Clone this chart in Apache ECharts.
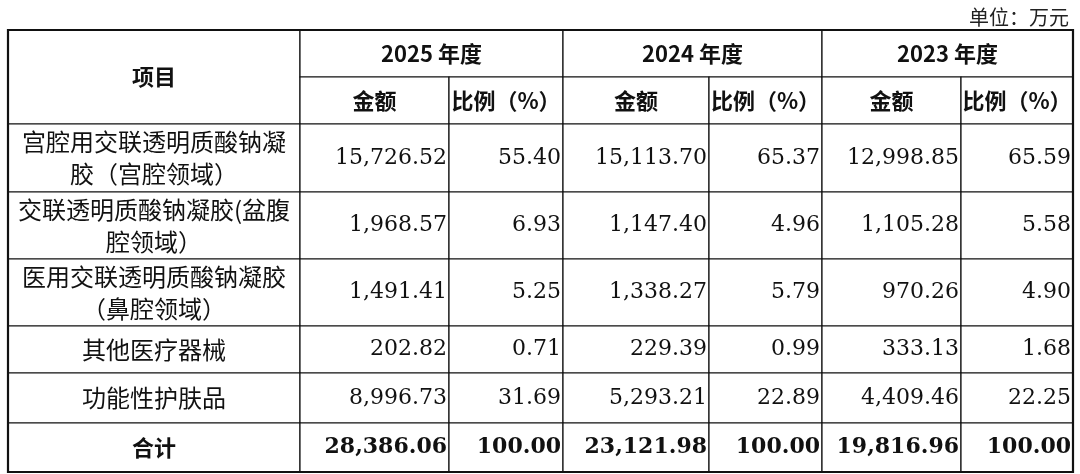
<!DOCTYPE html>
<html><head><meta charset="utf-8">
<script src="https://cdn.jsdelivr.net/npm/echarts@6/dist/echarts.min.js"></script>
<style>html,body{margin:0;background:#fff}#c{width:1080px;height:474px}</style>
</head><body><div id="c"></div>
<script>
// table data
const years = ["2025 年度", "2024 年度", "2023 年度"];
const subHeads = ["金额", "比例（%）"];
const items = [
  ["宫腔用交联透明质酸钠凝", "胶（宫腔领域）"],
  ["交联透明质酸钠凝胶(盆腹", "腔领域）"],
  ["医用交联透明质酸钠凝胶", "（鼻腔领域）"],
  ["其他医疗器械"],
  ["功能性护肤品"],
];
const amt2025 = ["15,726.52", "1,968.57", "1,491.41", "202.82", "8,996.73"];
const pct2025 = ["55.40", "6.93", "5.25", "0.71", "31.69"];
const amt2024 = ["15,113.70", "1,147.40", "1,338.27", "229.39", "5,293.21"];
const pct2024 = ["65.37", "4.96", "5.79", "0.99", "22.89"];
const amt2023 = ["12,998.85", "1,105.28", "970.26", "333.13", "4,409.46"];
const pct2023 = ["65.59", "5.58", "4.90", "1.68", "22.25"];
const totals = ["28,386.06", "100.00", "23,121.98", "100.00", "19,816.96", "100.00"];

// layout
const colEdges = [8, 300, 449, 563, 709, 822, 961, 1073];
const rowEdges = [30, 77, 124, 192, 259, 326, 373, 423, 472];
const CJK = '"Noto Sans CJK SC",sans-serif';
const NUM = '"DejaVu Serif","Liberation Serif",serif';

// cells: [c0, c1, r0, r1, lines, align, bold, kind]
const cells = [];
cells.push([0, 1, 0, 2, ["项目"], "center", true, "cjk"]);
years.forEach((y, i) => {
  cells.push([1 + 2 * i, 3 + 2 * i, 0, 1, [y], "center", true, "cjk"]);
  subHeads.forEach((s, j) => cells.push([1 + 2 * i + j, 2 + 2 * i + j, 1, 2, [s], "center", true, "cjk"]));
});
const cols = [amt2025, pct2025, amt2024, pct2024, amt2023, pct2023];
items.forEach((it, r) => {
  cells.push([0, 1, 2 + r, 3 + r, it, "center", false, "item"]);
  cols.forEach((col, c) => cells.push([1 + c, 2 + c, 2 + r, 3 + r, [col[r]], "right", false, "num"]));
});
cells.push([0, 1, 7, 8, ["合计"], "center", true, "cjk"]);
totals.forEach((t, c) => cells.push([1 + c, 2 + c, 7, 8, [t], "right", true, "num"]));

const data = cells.map((c, i) => [colEdges[c[0]], colEdges[c[1]], rowEdges[c[2]], rowEdges[c[3]], i]);
const fontFor = (cell) => {
  const b = cell[6] ? "bold " : "";
  if (cell[7] === "num") return `${b}22px ${NUM}`;
  if (cell[7] === "item") return `24px ${CJK}`;
  return `${b}22px ${CJK}`;
};

const chart = echarts.init(document.getElementById("c"));
chart.setOption({
  animation: false,
  grid: { left: 0, right: 0, top: 0, bottom: 0 },
  xAxis: { type: "value", min: 0, max: 1080, show: false },
  yAxis: { type: "value", min: 0, max: 474, inverse: true, show: false },
  title: { text: "单位：万元", right: 6, top: 2, textStyle: { fontFamily: CJK, fontSize: 20, fontWeight: "normal", color: "#222" } },
  series: [{
    type: "custom", coordinateSystem: "cartesian2d", data,
    encode: { x: [0, 1], y: [2, 3] },
    renderItem: (params, api) => {
      const p0 = api.coord([api.value(0), api.value(2)]);
      const p1 = api.coord([api.value(1), api.value(3)]);
      const cell = cells[api.value(4)];
      const lines = cell[4];
      const children = [{
        type: "rect", shape: { x: p0[0], y: p0[1], width: p1[0] - p0[0], height: p1[1] - p0[1] },
        style: { fill: "#fff", stroke: "#111", lineWidth: 1.2 },
      }];
      const lh = 32, cy = (p0[1] + p1[1]) / 2;
      lines.forEach((t, i) => {
        const y = cy + (i - (lines.length - 1) / 2) * lh;
        children.push({
          type: "text",
          style: {
            text: t, x: cell[5] === "right" ? p1[0] - 2 : (p0[0] + p1[0]) / 2, y,
            align: cell[5], verticalAlign: "middle",
            font: fontFor(cell), fill: "#111",
          },
        });
      });
      return { type: "group", children };
    },
  }, {
    type: "custom", coordinateSystem: "cartesian2d",
    data: [[colEdges[0], colEdges[colEdges.length - 1], rowEdges[0], rowEdges[rowEdges.length - 1]]],
    encode: { x: [0, 1], y: [2, 3] },
    renderItem: (params, api) => {
      const p0 = api.coord([api.value(0), api.value(2)]);
      const p1 = api.coord([api.value(1), api.value(3)]);
      return { type: "rect", shape: { x: p0[0], y: p0[1], width: p1[0] - p0[0], height: p1[1] - p0[1] }, style: { fill: "none", stroke: "#111", lineWidth: 2.2 } };
    },
  }],
});
</script></body></html>
